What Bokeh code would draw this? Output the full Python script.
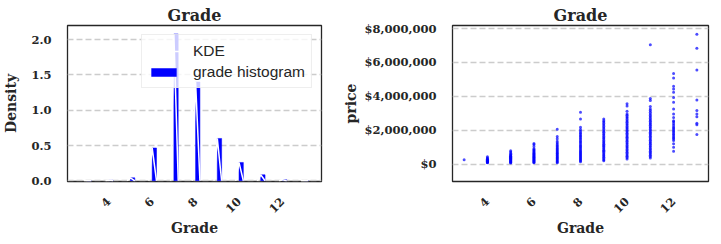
import math
from bokeh.plotting import figure
from bokeh.layouts import row
from bokeh.models import Range1d, FixedTicker, NumeralTickFormatter, Legend, LegendItem, ColumnDataSource
from bokeh.embed import file_html
from bokeh.resources import INLINE

# ---------------- data ----------------
grades = [3, 4, 5, 6, 7, 8, 9, 10, 11, 12, 13]
grade_density = [0.0005, 0.007, 0.042, 0.465, 2.08, 1.40, 0.60, 0.26, 0.085, 0.015, 0.003]
bin_width = 0.2

x_ticks = [4, 6, 8, 10, 12]
density_ticks = [0.0, 0.5, 1.0, 1.5, 2.0]
price_ticks = [0, 2000000, 4000000, 6000000, 8000000]

# prices (thousands of dollars) per grade
price_g3 = [262]
price_g4 = [80, 100, 125, 150, 175, 200, 228, 255, 285, 320, 360, 435]
price_g5 = [78, 105, 135, 165, 195, 225, 255, 285, 315, 345, 375, 405, 435, 465, 500, 540, 590, 650, 720, 800]
price_g6 = [82, 115, 150, 185, 220, 255, 290, 325, 360, 395, 430, 465, 500, 540, 580, 620, 665, 710,
            760, 810, 860, 910, 1040, 1160, 1220]
price_g7 = [90, 130, 180, 230, 280, 330, 380, 430, 480, 530, 580, 630, 680, 730, 790, 850, 910, 970,
            1040, 1100, 1180, 1260, 1350, 1500, 1630, 2060]
price_g8 = [140, 200, 260, 320, 380, 440, 500, 560, 620, 680, 740, 800, 870, 940, 1010, 1080, 1150,
            1230, 1310, 1390, 1470, 1550, 1630, 1700, 1780, 1860, 1950, 2050, 2180, 2670, 3060]
price_g9 = [200, 270, 340, 410, 480, 550, 620, 690, 760, 830, 900, 970, 1040, 1110, 1180, 1250, 1320,
            1400, 1480, 1560, 1640, 1720, 1800, 1880, 1960, 2050, 2130, 2220, 2310, 2400, 2490, 2570, 2670]
price_g10 = [310, 390, 470, 550, 630, 710, 790, 870, 950, 1030, 1110, 1190, 1270, 1350, 1430, 1510,
             1590, 1670, 1750, 1830, 1910, 1990, 2070, 2150, 2230, 2310, 2390, 2470, 2550, 2630, 2720,
             2800, 2880, 2960, 3120, 3430, 3570]
price_g11 = [370, 450, 530, 610, 690, 770, 850, 930, 1010, 1090, 1170, 1250, 1330, 1410, 1490, 1570,
             1650, 1730, 1810, 1890, 1970, 2050, 2130, 2210, 2290, 2370, 2450, 2530, 2610, 2690, 2780,
             2870, 2960, 3060, 3160, 3260, 3400, 3750, 3880, 7040]
price_g12 = [760, 1000, 1200, 1400, 1480, 1560, 1640, 1720, 1800, 1880, 1960, 2040, 2120, 2200, 2300,
             2400, 2500, 2570, 2760, 2960, 3250, 3650, 3940, 4250, 4430, 4600, 5080, 5350]
price_g13 = [1750, 2330, 2410, 2800, 2960, 3160, 3780, 5550, 6840, 7670]

prices_by_grade = [price_g3, price_g4, price_g5, price_g6, price_g7, price_g8, price_g9,
                   price_g10, price_g11, price_g12, price_g13]

# ---------------- styling helpers ----------------
SERIF = "DejaVu Serif"
TXT = "#262626"


def style(p, label_standoff_y):
    p.outline_line_color = TXT
    p.outline_line_width = 1.3
    p.background_fill_color = "white"
    p.border_fill_color = "white"
    p.xgrid.visible = False
    p.ygrid.grid_line_color = "#cccccc"
    p.ygrid.grid_line_dash = "6 3"
    p.ygrid.grid_line_width = 1.6
    p.title.text_font = SERIF
    p.title.text_font_style = "bold"
    p.title.text_font_size = "16px"
    p.title.text_color = TXT
    p.title.align = "center"
    p.title.standoff = 1
    for ax in p.axis:
        ax.axis_line_color = None
        ax.major_tick_line_color = None
        ax.minor_tick_line_color = None
        ax.major_tick_out = 0
        ax.major_tick_in = 0
        ax.minor_tick_out = 0
        ax.minor_tick_in = 0
        ax.major_label_text_font = SERIF
        ax.major_label_text_font_style = "bold"
        ax.major_label_text_font_size = "11.5px"
        ax.major_label_text_color = TXT
        ax.axis_label_text_font = SERIF
        ax.axis_label_text_font_style = "bold"
        ax.axis_label_text_font_size = "14px"
        ax.axis_label_text_color = TXT
    p.xaxis.major_label_orientation = math.pi / 4
    p.xaxis.major_label_standoff = 18
    p.xaxis.axis_label_standoff = 1
    p.yaxis.major_label_standoff = label_standoff_y
    p.xaxis.ticker = FixedTicker(ticks=x_ticks)


# ---------------- left: histogram + KDE ----------------
p1 = figure(width=340, height=244, title="Grade", output_backend="svg", toolbar_location=None,
            x_range=Range1d(2.1, 13.8), y_range=Range1d(-0.01, 2.2),
            min_border_left=63, min_border_right=19, min_border_top=25, min_border_bottom=63)

hist_src = ColumnDataSource(dict(
    left=[g for g in grades],
    right=[g + bin_width for g in grades],
    top=grade_density,
    bottom=[0.0] * len(grades),
))
bars = p1.quad(left="left", right="right", top="top", bottom="bottom", source=hist_src,
               fill_color="#0000ff", line_color="#0000ff", line_width=0.5)

kde_xs = [[g - 0.15, g, g + bin_width] for g in grades]
kde_ys = [[0.0, d, 0.0] for d in grade_density]
kde = p1.multi_line(xs=kde_xs, ys=kde_ys, line_color="white", line_width=1.5)

style(p1, 16)
p1.xaxis.axis_label = "Grade"
p1.yaxis.axis_label = "Density"
p1.yaxis.ticker = FixedTicker(ticks=density_ticks)
p1.yaxis.formatter = NumeralTickFormatter(format="0.0")
p1.yaxis.axis_label_standoff = 9

legend = Legend(items=[LegendItem(label="KDE", renderers=[kde]),
                       LegendItem(label="grade histogram", renderers=[bars])],
                location="top_right")
legend.margin = 9
legend.padding = 6
legend.spacing = 2
legend.label_height = 19
legend.glyph_height = 10
legend.glyph_width = 31
legend.label_standoff = 14
legend.label_text_font = "Liberation Sans"
legend.label_text_font_size = "15.5px"
legend.label_text_color = TXT
legend.background_fill_color = "white"
legend.background_fill_alpha = 0.8
legend.border_line_color = "#dddddd"
legend.border_line_width = 1
p1.add_layout(legend)

# ---------------- right: scatter ----------------
p2 = figure(width=381, height=244, title="Grade", output_backend="svg", toolbar_location=None,
            x_range=Range1d(2.5, 13.5), y_range=Range1d(-1020000, 8180000),
            min_border_left=111, min_border_right=13, min_border_top=25, min_border_bottom=63)

sx, sy = [], []
for g, plist in zip(grades, prices_by_grade):
    for v in plist:
        sx.append(g)
        sy.append(v * 1000)
p2.scatter(x=sx, y=sy, marker="circle", size=3.0, fill_color="#0000ff", fill_alpha=0.7,
           line_color=None)

style(p2, 16)
p2.xaxis.axis_label = "Grade"
p2.yaxis.axis_label = "price"
p2.yaxis.ticker = FixedTicker(ticks=price_ticks)
p2.yaxis.formatter = NumeralTickFormatter(format="$0,0")
p2.yaxis.axis_label_standoff = 2

layout = row(p1, p2)
open("out.html", "w").write(file_html(layout, INLINE))
